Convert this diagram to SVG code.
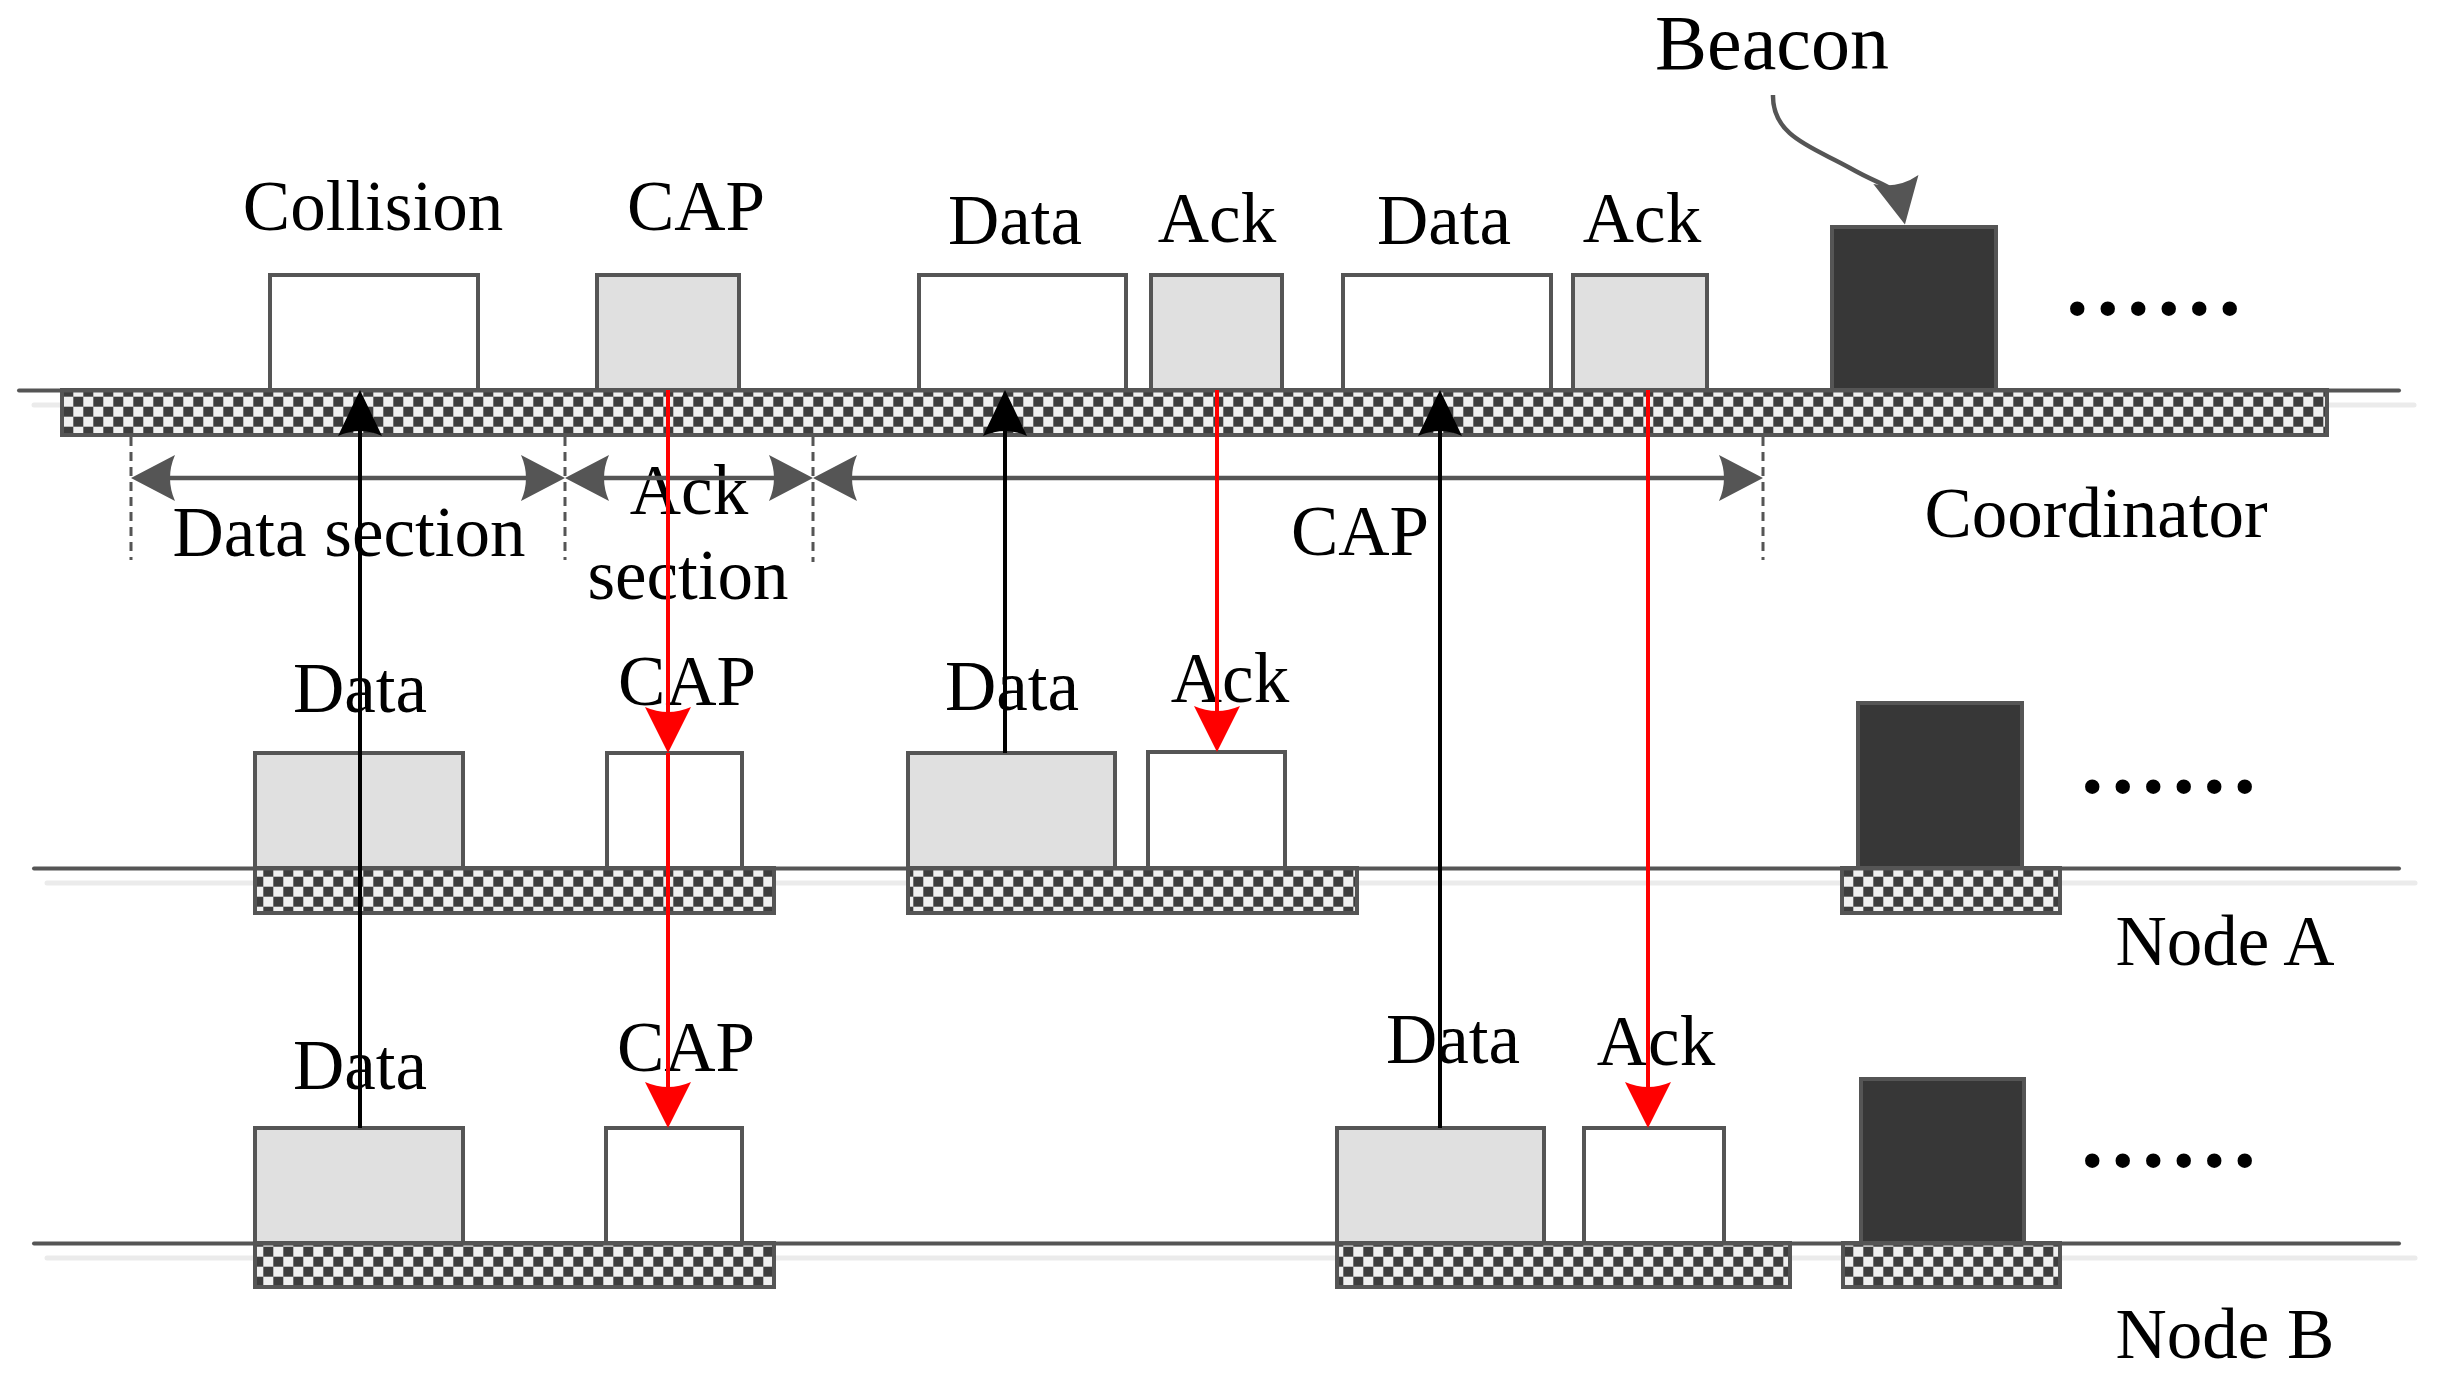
<svg xmlns="http://www.w3.org/2000/svg" width="2443" height="1377" viewBox="0 0 2443 1377">
<style>
text{font-family:"Liberation Serif","Times New Roman",serif;font-size:71px;fill:#000;text-anchor:middle}
.base{stroke:#555;stroke-width:4;stroke-linecap:round;fill:none}
.shadow{stroke:#ebebeb;stroke-width:5;stroke-linecap:round;fill:none}
.bar{fill:url(#chk);stroke:#555;stroke-width:4}
.box{stroke:#555;stroke-width:4}
.w{fill:#fff}.g{fill:#e0e0e0}.k{fill:#373737}
.dots{font-size:122px;text-anchor:start}
.blk{stroke:#000;stroke-width:4;fill:none;marker-end:url(#hBlack)}
.red{stroke:#f00;stroke-width:4;fill:none;marker-end:url(#hRed)}
.dim{stroke:#555;stroke-width:4.5;fill:none;marker-start:url(#hGray);marker-end:url(#hGray)}
.dash{stroke:#555;stroke-width:3;stroke-dasharray:9 6;fill:none}
.curve{stroke:#555;stroke-width:4.5;fill:none;marker-end:url(#hBeacon)}
</style>
<defs>
<pattern id="chk" width="20" height="20" patternUnits="userSpaceOnUse" x="3.3" y="6.7">
<rect width="20" height="20" fill="#f0f0f0"/>
<rect width="10" height="10" fill="#3d3d3d"/>
<rect x="10" y="10" width="10" height="10" fill="#3d3d3d"/>
</pattern>
<marker id="hBlack" viewBox="-50 -25 52 50" refX="-18" refY="0" markerWidth="52" markerHeight="50" markerUnits="userSpaceOnUse" orient="auto">
<path d="M0,0 L-46,-22 Q-36,0 -46,22 Z" fill="#000"/>
</marker>
<marker id="hRed" viewBox="-50 -25 52 50" refX="-18" refY="0" markerWidth="52" markerHeight="50" markerUnits="userSpaceOnUse" orient="auto">
<path d="M0,0 L-46,-23 Q-36,0 -46,23 Z" fill="#f00"/>
</marker>
<marker id="hGray" viewBox="-50 -25 52 50" refX="-18" refY="0" markerWidth="52" markerHeight="50" markerUnits="userSpaceOnUse" orient="auto-start-reverse">
<path d="M0,0 L-44,-23 Q-34,0 -44,23 Z" fill="#555"/>
</marker>
<marker id="hBeacon" viewBox="-50 -25 52 50" refX="-20" refY="0" markerWidth="52" markerHeight="50" markerUnits="userSpaceOnUse" orient="auto">
<path d="M0,0 L-46,-23 Q-36,0 -46,23 Z" fill="#555"/>
</marker>
</defs>
<rect width="2443" height="1377" fill="#fff"/>

<g id="coordinator">
<line class="shadow" x1="34" y1="405" x2="2414" y2="405"/>
<rect class="bar" x="62" y="390" width="2265" height="45"/>
<line class="base" x1="19" y1="390.5" x2="2399" y2="390.5"/>
<text x="2096" y="537">Coordinator</text>
<text class="dots" x="2062" y="314">......</text>
</g>
<g id="c-collision"><rect class="box w" x="270" y="275" width="208" height="115"/><text x="373" y="230">Collision</text></g>
<g id="c-cap"><rect class="box g" x="597" y="275" width="142" height="115"/><text x="696" y="230">CAP</text></g>
<g id="c-data1"><rect class="box w" x="919" y="275" width="207" height="115"/><text x="1015" y="244">Data</text></g>
<g id="c-ack1"><rect class="box g" x="1151" y="275" width="131" height="115"/><text x="1217" y="242">Ack</text></g>
<g id="c-data2"><rect class="box w" x="1343" y="275" width="208" height="115"/><text x="1444" y="244">Data</text></g>
<g id="c-ack2"><rect class="box g" x="1573" y="275" width="134" height="115"/><text x="1642" y="242">Ack</text></g>
<g id="c-beacon"><rect class="box k" x="1832" y="227" width="164" height="163"/></g>
<g id="beacon-label"><text x="1772" y="69" style="font-size:78px">Beacon</text></g>

<g id="sections">
<line class="dash" x1="131" y1="437" x2="131" y2="560"/>
<line class="dash" x1="565" y1="437" x2="565" y2="560"/>
<line class="dash" x1="813" y1="437" x2="813" y2="562"/>
<line class="dash" x1="1763" y1="437" x2="1763" y2="560"/>
<text x="349" y="556">Data section</text>
<text x="689" y="514">Ack</text>
<text x="688" y="599">section</text>
<text x="1360" y="555">CAP</text>
</g>

<g id="nodeA">
<line class="shadow" x1="47" y1="883" x2="2415" y2="883"/>
<rect class="bar" x="255" y="868" width="519" height="45"/>
<rect class="bar" x="908" y="868" width="449" height="45"/>
<rect class="bar" x="1842" y="868" width="218" height="45"/>
<line class="base" x1="34" y1="868.5" x2="2399" y2="868.5"/>
<text x="2225" y="965">Node A</text>
<text class="dots" x="2077" y="792">......</text>
</g>
<g id="a-data1"><rect class="box g" x="255" y="753" width="208" height="115"/><text x="360" y="712">Data</text></g>
<g id="a-cap"><rect class="box w" x="607" y="753" width="135" height="115"/><text x="687" y="705">CAP</text></g>
<g id="a-data2"><rect class="box g" x="908" y="753" width="207" height="115"/><text x="1012" y="710">Data</text></g>
<g id="a-ack"><rect class="box w" x="1148" y="752" width="137" height="116"/><text x="1230" y="702">Ack</text></g>
<g id="a-beacon"><rect class="box k" x="1858" y="703" width="164" height="165"/></g>

<g id="nodeB">
<line class="shadow" x1="47" y1="1258" x2="2415" y2="1258"/>
<rect class="bar" x="255" y="1243" width="519" height="44"/>
<rect class="bar" x="1337" y="1243" width="453" height="44"/>
<rect class="bar" x="1843" y="1243" width="217" height="44"/>
<line class="base" x1="34" y1="1243.5" x2="2399" y2="1243.5"/>
<text x="2225" y="1358">Node B</text>
<text class="dots" x="2077" y="1166">......</text>
</g>
<g id="b-data1"><rect class="box g" x="255" y="1128" width="208" height="115"/><text x="360" y="1089">Data</text></g>
<g id="b-cap"><rect class="box w" x="606" y="1128" width="136" height="115"/><text x="686" y="1071">CAP</text></g>
<g id="b-data2"><rect class="box g" x="1337" y="1128" width="207" height="115"/><text x="1453" y="1063">Data</text></g>
<g id="b-ack"><rect class="box w" x="1584" y="1128" width="140" height="115"/><text x="1656" y="1065">Ack</text></g>
<g id="b-beacon"><rect class="box k" x="1861" y="1079" width="163" height="164"/></g>

<g id="connectors">
<line class="dim" x1="149" y1="478" x2="547" y2="478"/>
<line class="dim" x1="583" y1="478" x2="795" y2="478"/>
<line class="dim" x1="831" y1="478" x2="1745" y2="478"/>
<path class="curve" d="M1773,95 C1772,137 1815,148 1850,168 S1897,185 1901,205"/>
<line class="blk" x1="360" y1="1128" x2="360" y2="408"/>
<line class="blk" x1="1005" y1="753" x2="1005" y2="408"/>
<line class="blk" x1="1440" y1="1128" x2="1440" y2="408"/>
<line class="red" x1="668" y1="390" x2="668" y2="735"/>
<line class="red" x1="668" y1="753" x2="668" y2="1110"/>
<line class="red" x1="1217" y1="390" x2="1217" y2="734"/>
<line class="red" x1="1648" y1="390" x2="1648" y2="1110"/>
</g>
</svg>
